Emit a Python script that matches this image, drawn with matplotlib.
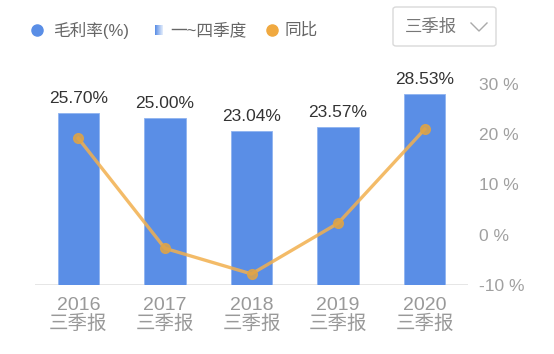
import matplotlib
matplotlib.use('Agg')
import matplotlib.pyplot as plt
import numpy as np
from matplotlib.patches import FancyBboxPatch
from matplotlib.lines import Line2D
from matplotlib.colors import LinearSegmentedColormap

plt.rcParams['font.family'] = ['Liberation Sans', 'Noto Sans CJK SC', 'DejaVu Sans']

# 数据
years = ['2016', '2017', '2018', '2019', '2020']
period = '三季报'
gross_margin = [25.70, 25.00, 23.04, 23.57, 28.53]   # 毛利率(%)
yoy = [19.2, -2.7, -7.8, 2.3, 21.0]                  # 同比(%)
right_ticks = [-10, 0, 10, 20, 30]

W, H = 554, 354
fig = plt.figure(figsize=(W / 100, H / 100), dpi=100)
ax = fig.add_axes([35 / W, 1 - 285 / H, (468 - 35) / W, (285 - 84) / H])
ax2 = ax.twinx()

#------------柱状图: 毛利率------------#
x = np.arange(len(years))
bars = ax.bar(x, gross_margin, width=0.48, color='#5a8ee6',
              edgecolor='#8fb3f0', linewidth=0.6, zorder=2)
ax.bar_label(bars, labels=['%.2f%%' % v for v in gross_margin],
             padding=5, fontsize=12.5, color='#333333')
ax.set_ylim(0, 30)
ax.set_xlim(-0.5, len(years) - 0.5)
ax.axhline(0, color='#e2e2e2', linewidth=1.2, zorder=1)
ax.set_yticks([])
ax.set_xticks(x)
ax.set_xticklabels([y + '\n' + period for y in years], fontsize=14,
                   color='#999999', linespacing=1.0)
ax.tick_params(axis='x', length=0, pad=9)

#------------折线图: 同比------------#
ax2.plot(x, yoy, color='#f2b04e', alpha=0.85, linewidth=2.4,
         marker='o', markersize=7, markerfacecolor='#e0a445',
         markeredgecolor='#e0a445', zorder=3)
ax2.set_ylim(-10, 30)
ax2.set_yticks(right_ticks)
ax2.set_yticklabels(['%d %%' % t for t in right_ticks], fontsize=12.5,
                    color='#a0a0a0')
ax2.tick_params(axis='y', length=0, pad=8)

for a in (ax, ax2):
    for s in a.spines.values():
        s.set_visible(False)

#------------图例------------#
ly = 1 - 30 / H
fig.lines.append(Line2D([37 / W], [ly], marker='o', markersize=8,
                        color='#5a8ee6', transform=fig.transFigure))
fig.text(53 / W, ly, '毛利率(%)', fontsize=12, color='#666666', va='center')

grad = fig.add_axes([155 / W, 1 - 35 / H, 8 / W, 10 / H])
g = np.linspace(0, 1, 20).reshape(1, -1)
cm = LinearSegmentedColormap.from_list('g', ['#5a8ee6', '#e3ecfb'])
grad.imshow(g, aspect='auto', cmap=cm)
grad.axis('off')
fig.text(170 / W, ly, '一~四季度', fontsize=12, color='#666666', va='center')

fig.lines.append(Line2D([272 / W], [ly], marker='o', markersize=8,
                        color='#f0a940', transform=fig.transFigure))
fig.text(284 / W, ly, '同比', fontsize=12, color='#666666', va='center')

#------------下拉框------------#
box = FancyBboxPatch((393 / W, 1 - 46 / H), (496 - 393) / W, (46 - 7) / H,
                     boxstyle='round,pad=0,rounding_size=0.006',
                     transform=fig.transFigure, facecolor='white',
                     edgecolor='#d9d9d9', linewidth=1)
fig.patches.append(box)
fig.text(405 / W, 1 - 27 / H, period, fontsize=12.5, color='#777777', va='center')
fig.lines.append(Line2D([471 / W, 479 / W, 487 / W],
                        [1 - 23 / H, 1 - 31 / H, 1 - 23 / H],
                        color='#aaaaaa', linewidth=1, transform=fig.transFigure))

fig.savefig('out.png', dpi=100)
